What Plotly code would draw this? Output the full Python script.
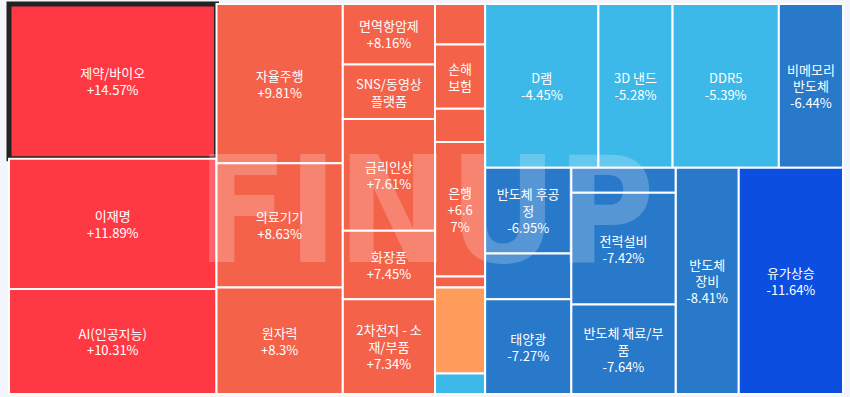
import plotly.graph_objects as go

# ---- data ----
# Column 1
col1_names = ["제약/바이오", "이재명", "AI(인공지능)"]
col1_chg = ["+14.57%", "+11.89%", "+10.31%"]
col1_size = [31878, 26807, 21632]

# Column 2
col2_names = ["자율주행", "의료기기", "원자력"]
col2_chg = ["+9.81%", "+8.63%", "+8.3%"]
col2_size = [19971, 15561, 13356]

# Column 3
col3_names = ["면역항암제", "SNS/동영상 플랫폼", "금리인상", "화장품", "2차전지 - 소재/부품"]
col3_text = ["면역항암제<br>+8.16%", "SNS/동영상<br>플랫폼", "금리인상<br>+7.61%",
             "화장품<br>+7.45%", "2차전지 - 소<br>재/부품<br>+7.34%"]
col3_size = [5548, 4968, 10249, 6256, 8676]

# Column 4 (small themes, several without visible labels)
col4_names = ["상승테마A", "손해보험", "상승테마B", "은행", "상승테마C", "보합테마", "하락테마A"]
col4_text = ["", "손해<br>보험", "", "은행<br>+6.6<br>7%", "", "", ""]
col4_size = [2015, 3200, 1650, 6685, 550, 4285, 1015]

# Falling themes - top row
top_names = ["D램", "3D 낸드", "DDR5", "비메모리 반도체"]
top_text = ["D램<br>-4.45%", "3D 낸드<br>-5.28%", "DDR5<br>-5.39%", "비메모리<br>반도체<br>-6.44%"]
top_size = [18419, 12062, 17278, 10432]

# Falling themes - bottom row, sub column A
subA_names = ["반도체 후공정", "하락테마B", "태양광"]
subA_text = ["반도체 후공<br>정<br>-6.95%", "", "태양광<br>-7.27%"]
subA_size = [7336, 3904, 8110]

# Falling themes - bottom row, sub column B
subB_names = ["하락테마C", "전력설비", "반도체 재료/부품"]
subB_text = ["", "전력설비<br>-7.42%", "반도체 재료/부<br>품<br>-7.64%"]
subB_size = [2569, 11575, 9256]

# Falling themes - bottom row, single cells
bot_names = ["반도체 장비", "유가상승"]
bot_text = ["반도체<br>장비<br>-8.41%", "유가상승<br>-11.64%"]
bot_size = [14175, 23400]

# colours
C_RED = "#ff3944"
C_CORAL = "#f4624a"
C_ORANGE = "#ff9c5b"
C_SKY = "#3cb9e8"
C_BLUE = "#2879ca"
C_DEEP = "#0b4ee0"
col4_colors = [C_CORAL, C_CORAL, C_CORAL, C_CORAL, C_CORAL, C_ORANGE, C_SKY]
top_colors = [C_SKY, C_SKY, C_SKY, C_BLUE]

ids, labels, parents, values, colors, texts, lw, lc = [], [], [], [], [], [], [], []


def add(i, lab, par, val, col, txt, width=2, lcol="white"):
    ids.append(i); labels.append(lab); parents.append(par); values.append(val)
    colors.append(col); texts.append(txt); lw.append(width); lc.append(lcol)


# group nodes (invisible, used to reproduce the layout with slice-dice tiling)
add("root", "테마", "", 0, "white", "", 0)
add("g1", "g1", "root", 0, "white", "", 0)
add("g2", "g2", "root", 0, "white", "", 0)
add("g3", "g3", "root", 0, "white", "", 0)
add("g4", "g4", "root", 0, "white", "", 0)
add("gb", "gb", "root", 0, "white", "", 0)
add("gbt", "gbt", "gb", 0, "white", "", 0)
add("gbb", "gbb", "gb", 0, "white", "", 0)

for k, (n, c, s) in enumerate(zip(col1_names, col1_chg, col1_size)):
    if k == 0:
        add(n, n, "g1", s, C_RED, n + "<br>" + c, 5, "#222222")
    else:
        add(n, n, "g1", s, C_RED, n + "<br>" + c)
for n, c, s in zip(col2_names, col2_chg, col2_size):
    add(n, n, "g2", s, C_CORAL, n + "<br>" + c)
for n, t, s in zip(col3_names, col3_text, col3_size):
    add(n, n, "g3", s, C_CORAL, t)
for n, t, s, col in zip(col4_names, col4_text, col4_size, col4_colors):
    add(n, n, "g4", s, col, t)
for n, t, s, col in zip(top_names, top_text, top_size, top_colors):
    add(n, n, "gbt", s, col, t)
add("gA", "gA", "gbb", 0, "white", "", 0)
add("gB", "gB", "gbb", 0, "white", "", 0)
for n, t, s in zip(subA_names, subA_text, subA_size):
    add(n, n, "gA", s, C_BLUE, t)
for n, t, s in zip(subB_names, subB_text, subB_size):
    add(n, n, "gB", s, C_BLUE, t)
add(bot_names[0], bot_names[0], "gbb", bot_size[0], C_BLUE, bot_text[0])
add(bot_names[1], bot_names[1], "gbb", bot_size[1], C_DEEP, bot_text[1])

fig = go.Figure(go.Treemap(
    ids=ids, labels=labels, parents=parents, values=values,
    branchvalues="remainder", sort=False,
    text=texts, textinfo="text",
    textposition="middle center",
    textfont=dict(family="Noto Sans CJK KR", size=13, color="white"),
    marker=dict(colors=colors, line=dict(width=lw, color=lc),
                pad=dict(t=0, l=0, r=0, b=0)),
    tiling=dict(packing="slice-dice", pad=0),
    pathbar=dict(visible=False),
    hoverinfo="label",
))

fig.add_annotation(
    text="<b>FINUP</b>", x=0.5, y=0.47, xref="paper", yref="paper",
    showarrow=False, xanchor="center", yanchor="middle",
    font=dict(family="DejaVu Sans Condensed, DejaVu Sans", size=148,
              color="rgba(255,255,255,0.22)"),
)

fig.update_layout(
    width=850, height=397,
    margin=dict(l=9, r=7, t=4, b=3),
    paper_bgcolor="#f4f5fa",
    uniformtext=dict(minsize=13, mode="show"),
)

fig.write_html("out.html", config={"displayModeBar": False},
               post_script="document.body.style.margin='0';document.body.style.overflow='hidden';")
